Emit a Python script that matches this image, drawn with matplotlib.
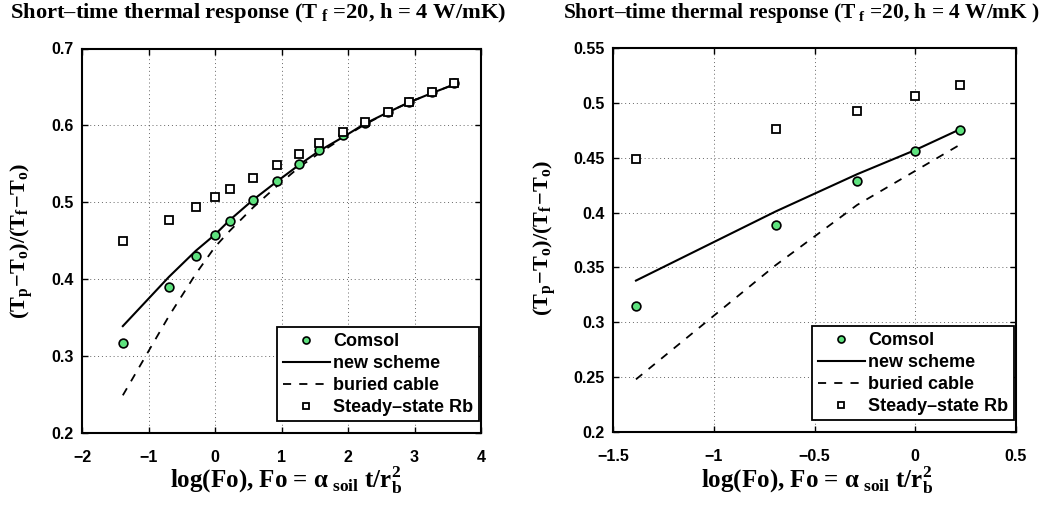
import matplotlib
matplotlib.use('Agg')
import matplotlib.pyplot as plt

plt.rcParams['font.family'] = 'Liberation Sans'
plt.rcParams['font.weight'] = 'bold'
plt.rcParams['mathtext.fontset'] = 'custom'
plt.rcParams['mathtext.rm'] = 'Liberation Serif:bold'
plt.rcParams['mathtext.it'] = 'Liberation Serif:bold'
plt.rcParams['mathtext.bf'] = 'Liberation Serif:bold'

# left panel: full time range
log_fo = [-1.386, -0.693, -0.288, 0.0, 0.223, 0.57, 0.93, 1.27, 1.57, 1.93, 2.25, 2.60, 2.92, 3.26, 3.59]
comsol = [0.317, 0.390, 0.430, 0.457, 0.476, 0.503, 0.528, 0.550, 0.568, 0.587, 0.603, 0.617, 0.631, 0.643, 0.655]
new_scheme = [0.339, 0.403, 0.437, 0.458, 0.477, 0.503, 0.527, 0.549, 0.567, 0.585, 0.602, 0.617, 0.630, 0.642, 0.653]
buried_cable = [0.249, 0.352, 0.407, 0.442, 0.463, 0.493, 0.521, 0.546, 0.564, 0.584, 0.601, 0.617, 0.630, 0.642, 0.653]
steady_rb = [0.450, 0.477, 0.494, 0.507, 0.517, 0.532, 0.548, 0.563, 0.577, 0.592, 0.604, 0.618, 0.631, 0.643, 0.655]

# right panel: first five points
log_fo_s = [-1.386, -0.693, -0.288, 0.0, 0.223]
comsol_s = [0.315, 0.389, 0.429, 0.456, 0.475]
new_scheme_s = [0.338, 0.401, 0.435, 0.457, 0.476]
buried_cable_s = [0.248, 0.352, 0.407, 0.438, 0.462]
steady_rb_s = [0.449, 0.476, 0.493, 0.506, 0.516]

title_l = r'Short–time thermal response (T$_{\ \mathrm{f}}$ =20, h = 4 W/mK)'
title_r = r'Short–time thermal response (T$_{\ \mathrm{f}}$ =20, h = 4 W/mK )'
xlab = r'log(Fo), Fo = $\mathrm{\alpha}_{\ \mathrm{soil}}$ t/r$_{\mathrm{b}}^{\mathrm{2}}$'
ylab = r'$\mathrm{(T_p\!-\!T_o)/(T_f\!-\!T_o)}$'

green = '#5ee27e'
serif = 'Liberation Serif'

W, H = 1057, 509
fig = plt.figure(figsize=(W / 100, H / 100), dpi=100)
ax1 = fig.add_axes([82 / W, 1 - 433 / H, 399 / W, 384.5 / H])
ax2 = fig.add_axes([613 / W, 1 - 432 / H, 403 / W, 384 / H])


def draw(ax, x, c, ns, bc, rb, xlim, ylim, xticks, yticks):
    ax.plot(x, c, 'o', color=green, mec='k', mew=1.2, ms=6.3, label='Comsol', zorder=4)
    ax.plot(x, ns, '-', color='k', lw=1.5, label='new scheme', zorder=3)
    ax.plot(x, bc, '--', color='k', lw=1.3, dashes=(4.5, 4.5), label='buried cable', zorder=3)
    ax.plot(x, rb, 's', mfc='white', mec='k', mew=1.3, ms=5.5, label='Steady\u2013state Rb', zorder=4)
    ax.set_xlim(xlim)
    ax.set_ylim(ylim)
    ax.set_xticks(xticks)
    ax.set_yticks(yticks)
    ax.set_xticklabels([('%g' % v).replace('-', '\u2212') for v in xticks])
    ax.set_yticklabels([('%g' % v) for v in yticks])
    ax.tick_params(direction='in', top=True, right=True, length=4, width=1, labelsize=11.5)
    ax.tick_params(axis='x', pad=12)
    ax.tick_params(axis='y', pad=6)
    ax.grid(True, linestyle=(0, (1, 3)), color='k', lw=0.7, alpha=0.6)
    for s in ax.spines.values():
        s.set_linewidth(1.5)
    leg = ax.legend(loc='lower right', bbox_to_anchor=(0.995, 0.03), borderaxespad=0,
                    prop={'weight': 'bold', 'size': 13},
                    fancybox=False, framealpha=1, edgecolor='k',
                    handlelength=2.6, handletextpad=0.2, labelspacing=0.28, borderpad=0.3,
                    markerscale=0.8)
    leg.get_frame().set_linewidth(1.3)


draw(ax1, log_fo, comsol, new_scheme, buried_cable, steady_rb,
     (-2, 4), (0.2, 0.7), [-2, -1, 0, 1, 2, 3, 4], [0.2, 0.3, 0.4, 0.5, 0.6, 0.7])
draw(ax2, log_fo_s, comsol_s, new_scheme_s, buried_cable_s, steady_rb_s,
     (-1.5, 0.5), (0.2, 0.55), [-1.5, -1, -0.5, 0, 0.5],
     [0.2, 0.25, 0.3, 0.35, 0.4, 0.45, 0.5, 0.55])

tkw = dict(family=serif, weight='bold')
fig.text(10 / W, 1 - 18 / H, title_l, ha='left', va='baseline', fontsize=16.2, **tkw)
fig.text(563 / W, 1 - 18 / H, title_r, ha='left', va='baseline', fontsize=15.4, **tkw)
fig.text(170 / W, 1 - 488 / H, xlab, ha='left', va='baseline', fontsize=18, **tkw)
fig.text(701 / W, 1 - 488 / H, xlab, ha='left', va='baseline', fontsize=18, **tkw)
fig.text(22 / W, 1 - 241 / H, ylab, ha='center', va='center', rotation=90, fontsize=16, **tkw)
fig.text(545 / W, 1 - 238 / H, ylab, ha='center', va='center', rotation=90, fontsize=16, **tkw)

fig.savefig('out.png', dpi=100)
